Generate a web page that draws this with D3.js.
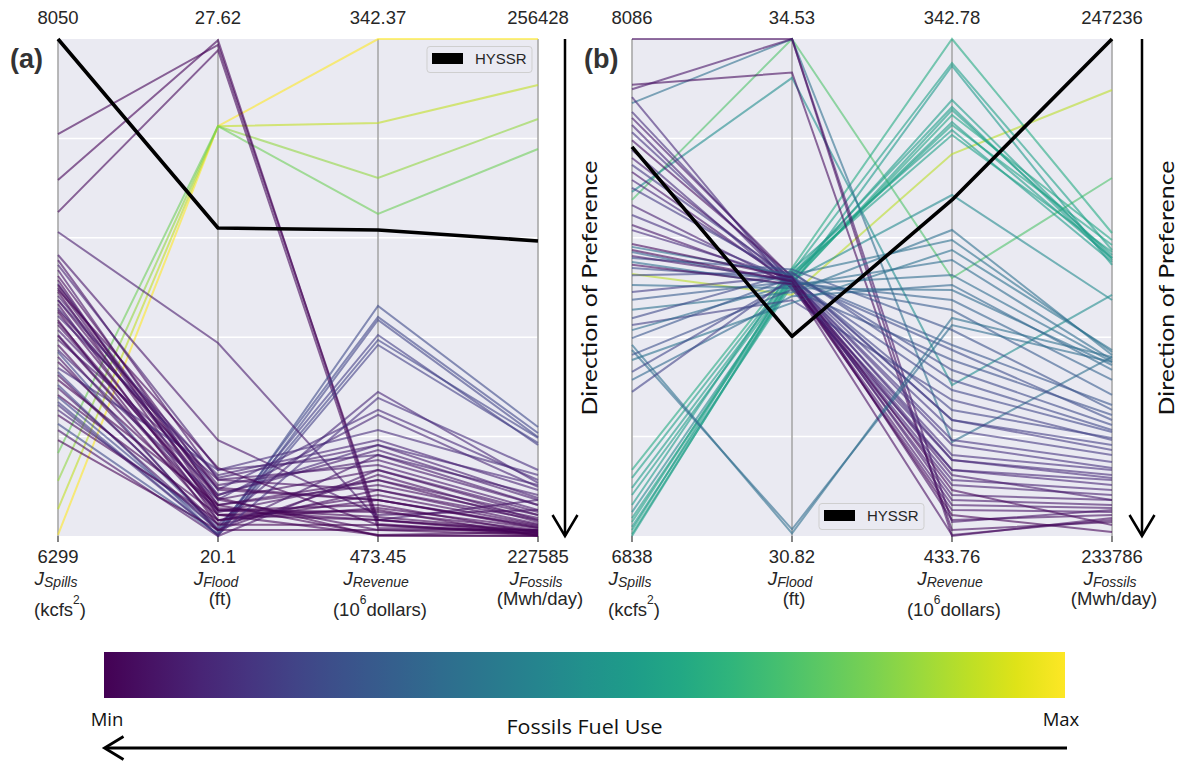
<!DOCTYPE html>
<html>
<head>
<meta charset="utf-8">
<script src="https://cdn.jsdelivr.net/npm/d3@7"></script>
<style>
  body { margin: 0; background: #fff; }
  svg { display: block; }
</style>
</head>
<body>
<svg id="chart" width="1179" height="765"></svg>
<script>
const dims = ['spills', 'flood', 'revenue', 'fossils']
const dimSubs = ['Spills', 'Flood', 'Revenue', 'Fossils']
const unitHead = ['(kcfs', '(ft)', '(10', '(Mwh/day)']
const unitSup = ['2', '', '6', '']
const unitTail = [')', '', 'dollars)', '']

// axis extents: value shown on top / bottom of each axis
const topA = [8050, 27.62, 342.37, 256428]
const bottomA = [6299, 20.1, 473.45, 227585]
const topB = [8086, 34.53, 342.78, 247236]
const bottomB = [6838, 30.82, 433.76, 233786]

// panel (a) solutions
const spillsA = [6303, 6394, 6493, 6591, 7715, 7553, 7440, 6694, 6789, 6831, 6877, 6947, 6771, 6743,
  7370, 7289, 7271, 7254, 7236, 7215, 7201, 7187, 7173, 7159, 7145, 7130, 7116, 7102, 7088, 7074,
  7060, 7042, 7025, 7004, 6990, 6972, 6954, 6930, 6912, 6891, 6866, 6849, 6820, 6796, 6761, 6725,
  6672, 6637, 7166, 7130, 7095, 7183, 7053, 7007]
const floodA = [26.30, 26.30, 26.30, 26.30, 27.53, 27.60, 27.45, 20.13, 20.19, 20.10, 20.22, 20.16, 20.12, 20.28,
  23.02, 21.55, 20.95, 21.10, 20.65, 20.80, 20.49, 20.72, 20.57, 20.42, 20.87, 20.65, 20.34, 20.80, 20.49, 21.02,
  20.27, 20.57, 20.72, 20.42, 20.95, 20.34, 20.65, 20.19, 20.49, 21.10, 20.27, 20.57, 20.19, 20.42, 20.12, 20.34,
  20.10, 20.19, 21.13, 20.98, 20.83, 20.68, 20.52, 20.46]
const revenueA = [342.37, 364.52, 379.02, 388.52, 469.21, 470.26, 471.32, 412.78, 415.68, 416.47, 420.43, 421.74, 423.06, 435.46,
  469.21, 467.89, 461.30, 452.07, 456.02, 463.94, 469.21, 449.43, 458.66, 466.57, 453.39, 471.85, 462.62, 440.20, 465.25, 448.11,
  470.53, 459.98, 450.75, 473.17, 454.71, 463.94, 441.52, 457.34, 467.10, 445.48, 461.30, 473.17, 452.07, 469.21, 437.04, 466.05,
  456.02, 471.85, 470.53, 449.43, 463.94, 473.45, 468.42, 458.66]
const fossilsA = [256428, 253759, 251786, 250045, 227819, 227703, 227935, 233912, 233564, 233332, 232868, 233274, 232984, 230663,
  229676, 229096, 228516, 229966, 228806, 228051, 227703, 230547, 228400, 227585, 229386, 227935, 228225, 230837, 227761, 230256,
  227645, 228632, 229676, 227819, 229096, 228109, 230431, 228516, 227935, 231127, 228283, 227585, 229386, 227877, 231417, 228051,
  228980, 227645, 227761, 229792, 228167, 227585, 227877, 228806]
const hyssrA = [8050, 24.76, 392.74, 244706]

// panel (b) solutions
const spillsB = [7496, 7682,
  7004, 6984, 6959, 6941, 6916, 6898, 6883, 6873, 6861, 6853, 6843, 6838,
  7702, 7925,
  8086, 7971, 7960, 7940, 7903, 7888, 7870, 7852, 7832, 7807, 7787, 7770, 7752, 7732, 7712, 7669, 7644, 7619, 7606,
  7564, 7551, 7536, 7526, 7511, 7493, 7468, 7451, 7431, 7406, 7385, 7368, 7355, 7335, 7318, 7305, 7293, 7280, 7250, 7230, 7200,
  7571, 7556, 7541, 7519]
const floodB = [32.62, 34.53,
  32.82, 32.79, 32.77, 32.75, 32.81, 32.73, 32.71, 32.76, 32.69, 32.78, 32.72, 32.74,
  34.24, 34.53,
  34.53, 34.28, 34.53, 32.66, 32.72, 32.75, 32.69, 32.73, 32.76, 32.67, 32.72, 32.74, 32.70, 32.72, 32.75, 32.69, 32.73, 32.71, 32.74,
  32.77, 32.71, 32.81, 32.69, 32.74, 32.79, 32.67, 32.76, 32.72, 32.64, 32.78, 32.58, 32.70, 32.75, 30.84, 30.87, 32.66, 32.56, 32.73, 32.61, 32.75,
  32.75, 32.72, 32.73, 32.70]
const revenueB = [363.83, 386.53,
  342.78, 347.17, 355.23, 357.97, 359.44, 371.34, 355.78, 358.52, 347.72, 360.35, 356.69, 353.95,
  406.12, 416.55,
  433.76, 432.66, 431.20, 421.68, 418.93, 427.17, 423.51, 416.19, 430.83, 419.85, 426.25, 414.36, 429.00, 421.68, 412.53, 424.42, 417.10, 428.09, 419.85,
  379.58, 390.56, 396.05, 383.24, 399.71, 405.20, 388.73, 412.53, 392.39, 377.74, 403.37, 408.86, 385.98, 398.80, 393.85, 395.14, 401.54, 381.41, 407.03, 387.81, 410.70,
  425.34, 429.92, 422.59, 433.58]
const fossilsB = [245856, 243475,
  241986, 241526, 241256, 241310, 241202, 240173, 241391, 241662, 241120, 241472, 241797, 241310,
  240309, 238631,
  234274, 234166, 234491, 235303, 235573, 234626, 235032, 235790, 234355, 235438, 234761, 235979, 234437, 235167, 236114, 234897, 235627, 234545, 235357,
  238766, 238009, 237197, 238550, 236926, 236656, 238414, 236250, 237603, 238685, 236791, 236385, 238496, 237332, 238631, 238496, 237061, 238820, 236601, 238279, 236439,
  234085, 233895, 234761, 234220]
const hyssrB = [7815, 32.31, 372.25, 247236]

const svg = d3.select('#chart')
const plotTop = 39
const plotBottom = 536
const plotW = 480
const labelFont = '"Liberation Sans", Arial, sans-serif'
const humanFont = '"Open Sans", Lato, sans-serif'
const textCol = '#262626'

function drawPanel(x0, tag, top, bottom, cols, hyssr, legendX, legendY, arrowX) {
  const g = svg.append('g')
  const x = d3.scalePoint().domain(dims).range([x0, x0 + plotW])
  const y = dims.map((d, i) => d3.scaleLinear().domain([bottom[i], top[i]]).range([plotBottom, plotTop]))
  const frac = d3.scaleLinear().domain([0, 1]).range([plotBottom, plotTop])
  const color = d3.scaleSequential(d3.interpolateViridis).domain([bottom[3], top[3]])

  g.append('rect')
    .attr('x', x0).attr('y', plotTop)
    .attr('width', plotW).attr('height', plotBottom - plotTop)
    .attr('fill', '#eaeaf2')

  g.selectAll('.grid').data([0.2, 0.4, 0.6, 0.8]).join('line')
    .attr('x1', x0).attr('x2', x0 + plotW)
    .attr('y1', d => frac(d)).attr('y2', d => frac(d))
    .attr('stroke', '#fff').attr('stroke-width', 1.5)

  g.selectAll('.axisline').data(dims).join('line')
    .attr('x1', d => x(d)).attr('x2', d => x(d))
    .attr('y1', plotTop).attr('y2', plotBottom)
    .attr('stroke', '#a8a8a8').attr('stroke-width', 1.6)

  g.selectAll('.tick').data(dims).join('line')
    .attr('x1', d => x(d)).attr('x2', d => x(d))
    .attr('y1', plotBottom).attr('y2', plotBottom + 6)
    .attr('stroke', '#333').attr('stroke-width', 1.2)

  const rows = cols[0].map((_, i) => cols.map(c => c[i]))
  const line = d3.line()
    .x((v, j) => x(dims[j]))
    .y((v, j) => y[j](v))

  g.selectAll('.pc').data(rows).join('path')
    .attr('d', line)
    .attr('fill', 'none')
    .attr('stroke', r => color(r[3]))
    .attr('stroke-width', 2)
    .attr('stroke-opacity', 0.6)

  g.append('path')
    .attr('d', line(hyssr))
    .attr('fill', 'none')
    .attr('stroke', '#000')
    .attr('stroke-width', 3.6)
    .attr('stroke-linejoin', 'round')

  // axis end values
  g.selectAll('.toplab').data(dims).join('text')
    .attr('x', d => x(d)).attr('y', 24)
    .attr('text-anchor', 'middle')
    .style('font-family', labelFont).style('font-size', '18.5px').attr('fill', textCol)
    .text((d, i) => String(top[i]))
  g.selectAll('.botlab').data(dims).join('text')
    .attr('x', d => x(d)).attr('y', 563)
    .attr('text-anchor', 'middle')
    .style('font-family', labelFont).style('font-size', '18.5px').attr('fill', textCol)
    .text((d, i) => String(bottom[i]))

  // J names
  const jt = g.selectAll('.jlab').data(dims).join('text')
    .attr('x', d => x(d) - 2).attr('y', 585)
    .attr('text-anchor', 'middle')
    .style('font-family', labelFont).style('font-style', 'italic').attr('fill', textCol)
  jt.append('tspan').style('font-size', '19px').text('J')
  jt.append('tspan').style('font-size', '14px').attr('dy', 2).text((d, i) => dimSubs[i])

  // units
  const ut = g.selectAll('.ulab').data(dims).join('text')
    .attr('x', d => x(d) + 2)
    .attr('y', (d, i) => unitSup[i] ? 616 : 605)
    .attr('text-anchor', 'middle')
    .style('font-family', labelFont).style('font-size', '18.5px').attr('fill', textCol)
  ut.append('tspan').text((d, i) => unitHead[i])
  ut.append('tspan').attr('dy', -12).style('font-size', '12px').text((d, i) => unitSup[i])
  ut.append('tspan').attr('dy', 12).text((d, i) => unitTail[i])

  // panel tag
  g.append('text')
    .attr('x', x0 - 48).attr('y', 67.5)
    .style('font-family', labelFont).style('font-size', '27px').style('font-weight', 'bold')
    .attr('fill', '#333')
    .text(tag)

  // legend
  const lg = g.append('g').attr('transform', `translate(${legendX},${legendY})`)
  lg.append('rect')
    .attr('width', 105).attr('height', 26).attr('rx', 3)
    .attr('fill', '#eaeaf2').attr('stroke', '#cfcfcf')
  lg.append('rect')
    .attr('x', 5).attr('y', 6.5).attr('width', 31).attr('height', 11)
    .attr('fill', '#000')
  lg.append('text')
    .attr('x', 48).attr('y', 17.5)
    .style('font-family', labelFont).style('font-size', '15px').attr('fill', textCol)
    .text('HYSSR')

  // direction of preference arrow
  g.append('line')
    .attr('x1', arrowX).attr('x2', arrowX)
    .attr('y1', plotTop).attr('y2', plotBottom)
    .attr('stroke', '#000').attr('stroke-width', 2.5)
  g.append('path')
    .attr('d', `M${arrowX - 12.5},${plotBottom - 21} L${arrowX},${plotBottom} L${arrowX + 12.5},${plotBottom - 21}`)
    .attr('fill', 'none').attr('stroke', '#000').attr('stroke-width', 2.5)
  g.append('text')
    .attr('transform', `translate(${arrowX + 32},${(plotTop + plotBottom) / 2 + 0.5}) rotate(-90)`)
    .attr('text-anchor', 'middle')
    .attr('textLength', 255).attr('lengthAdjust', 'spacingAndGlyphs')
    .style('font-family', 'Lato, "Open Sans", sans-serif').style('font-size', '21px')
    .attr('fill', '#111')
    .text('Direction of Preference')
}

drawPanel(58, '(a)', topA, bottomA, [spillsA, floodA, revenueA, fossilsA], hyssrA, 427, 46.5, 565)
drawPanel(632, '(b)', topB, bottomB, [spillsB, floodB, revenueB, fossilsB], hyssrB, 819, 503.5, 1142)

// colour bar
const cbX = d3.scaleLinear().domain([0, 1]).range([104, 1065])
const defs = svg.append('defs')
const grad = defs.append('linearGradient').attr('id', 'viridisGrad')
  .attr('x1', '0%').attr('x2', '100%').attr('y1', '0%').attr('y2', '0%')
grad.selectAll('stop').data(d3.range(0, 1.0001, 0.05)).join('stop')
  .attr('offset', d => `${d * 100}%`)
  .attr('stop-color', d => d3.interpolateViridis(d))
svg.append('rect')
  .attr('x', cbX(0)).attr('y', 652)
  .attr('width', cbX(1) - cbX(0)).attr('height', 46)
  .attr('fill', 'url(#viridisGrad)')

svg.append('text').attr('x', cbX(0) + 3).attr('y', 726).attr('text-anchor', 'middle')
  .style('font-family', humanFont).style('font-size', '18.5px').attr('fill', '#111').text('Min')
svg.append('text').attr('x', cbX(1) - 4).attr('y', 726).attr('text-anchor', 'middle')
  .style('font-family', humanFont).style('font-size', '18.5px').attr('fill', '#111').text('Max')
svg.append('text').attr('x', cbX(0.5)).attr('y', 734).attr('text-anchor', 'middle')
  .attr('textLength', 156).attr('lengthAdjust', 'spacingAndGlyphs')
  .style('font-family', humanFont).style('font-size', '19.5px').attr('fill', '#111').text('Fossils Fuel Use')

svg.append('line')
  .attr('x1', cbX(1) + 2).attr('x2', cbX(0) + 1)
  .attr('y1', 748).attr('y2', 748)
  .attr('stroke', '#000').attr('stroke-width', 2.8)
svg.append('path')
  .attr('d', `M${cbX(0) + 19.5},${736.5} L${cbX(0) + 0.5},748 L${cbX(0) + 19.5},${759.5}`)
  .attr('fill', 'none').attr('stroke', '#000').attr('stroke-width', 2.8)
</script>
</body>
</html>
